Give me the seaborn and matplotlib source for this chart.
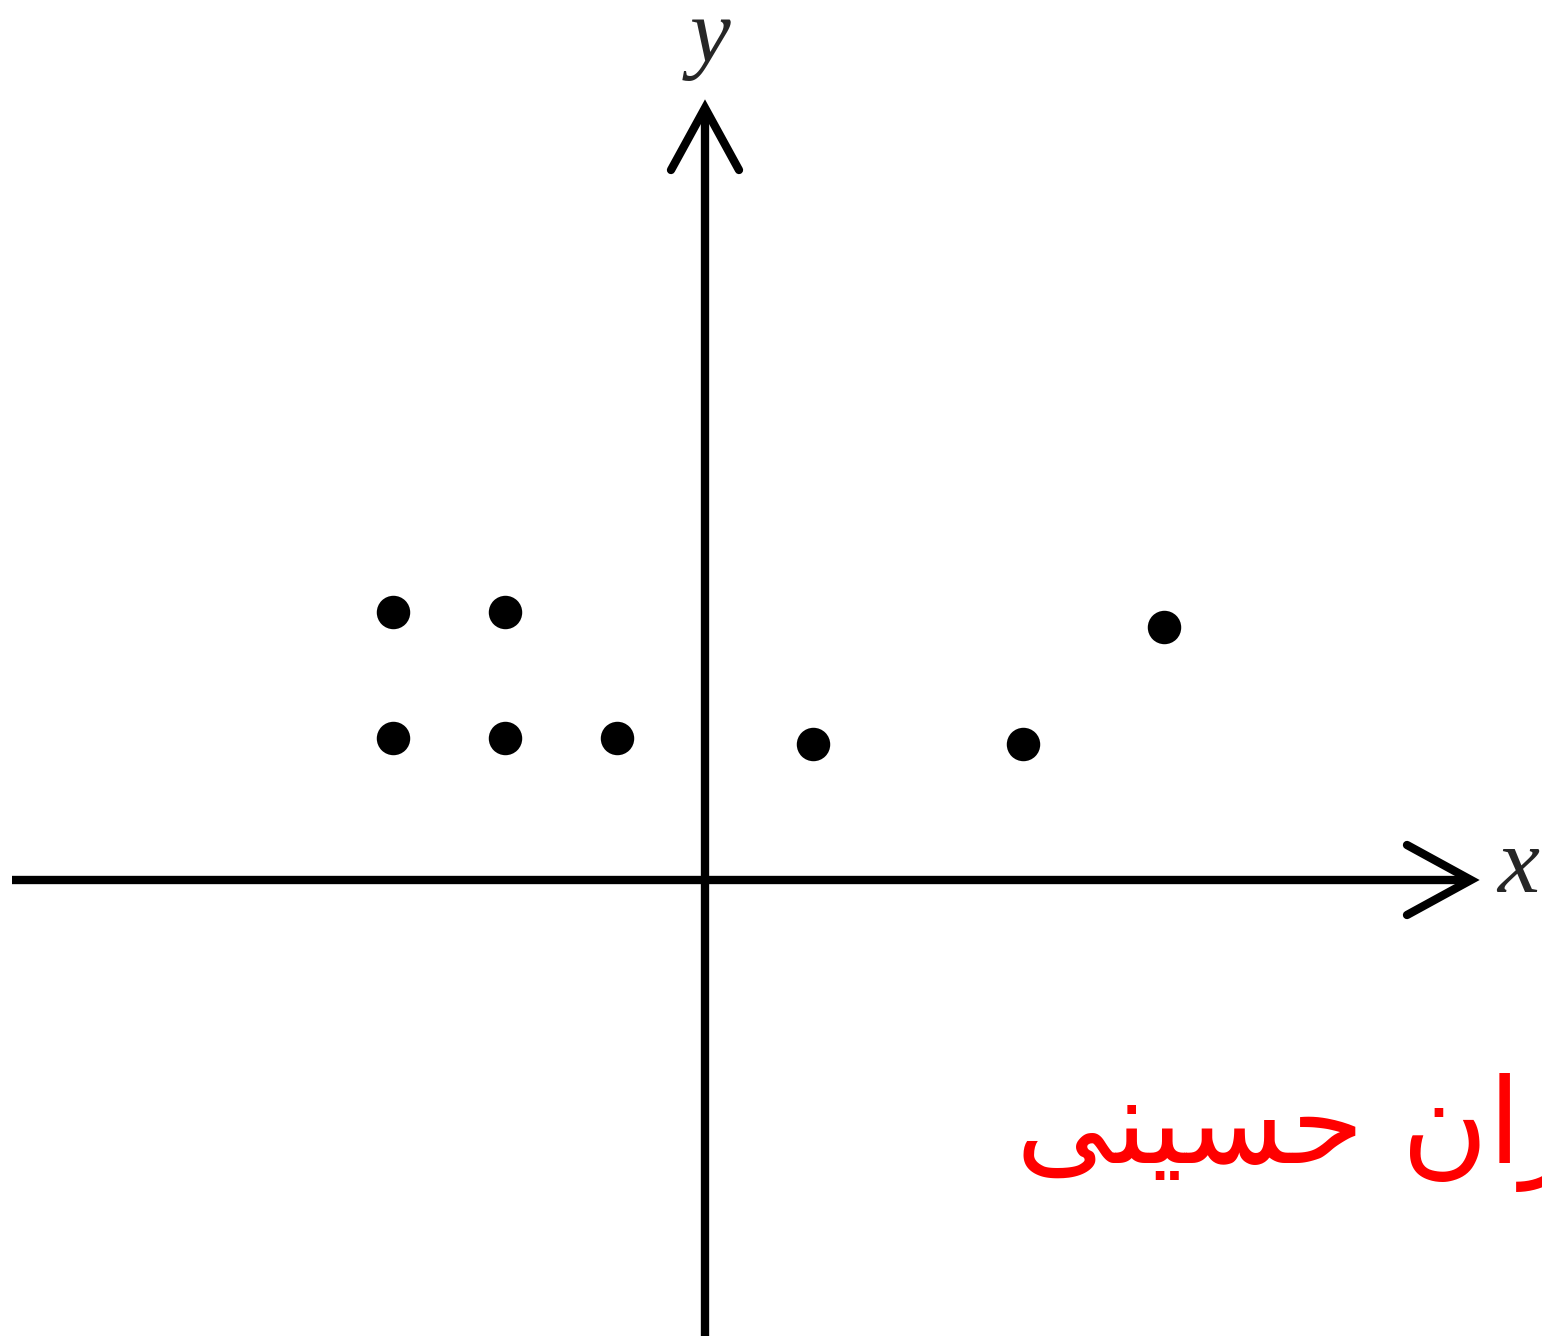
import seaborn as sns
import matplotlib.pyplot as plt

# points (1 unit = 100 px, origin at the axes crossing)
dot_x = [-3.12, -2.00, -3.12, -2.00, -0.88, 1.08, 3.18, 4.59]
dot_y = [2.68, 2.68, 1.42, 1.42, 1.42, 1.36, 1.36, 2.53]

axis_labels = ['$x$', '$y$']
caption = 'کامران حسینی'

# Arabic letters -> presentation forms (isolated, final, initial, medial)
FORMS = {
    'ا': ('\uFE8D', '\uFE8E', None, None),
    'ر': ('\uFEAD', '\uFEAE', None, None),
    'ن': ('\uFEE5', '\uFEE6', '\uFEE7', '\uFEE8'),
    'ح': ('\uFEA1', '\uFEA2', '\uFEA3', '\uFEA4'),
    'س': ('\uFEB1', '\uFEB2', '\uFEB3', '\uFEB4'),
    'م': ('\uFEE1', '\uFEE2', '\uFEE3', '\uFEE4'),
    'ک': ('\uFB8E', '\uFB8F', '\uFB90', '\uFB91'),
    'ی': ('\uFBFC', '\uFBFD', '\uFBFE', '\uFBFF'),
}


def shape(s):
    # matplotlib has no shaping/bidi, so pick joined forms and reverse
    out = []
    for i, ch in enumerate(s):
        if ch not in FORMS:
            out.append(ch)
            continue
        iso, fin, ini, med = FORMS[ch]
        prev = s[i - 1] if i > 0 else ''
        nxt = s[i + 1] if i + 1 < len(s) else ''
        jp = prev in FORMS and FORMS[prev][2] is not None
        jn = nxt in FORMS and ini is not None
        if jp and jn:
            out.append(med)
        elif jp:
            out.append(fin)
        elif jn:
            out.append(ini)
        else:
            out.append(iso)
    return ''.join(reversed(out))


sns.set_style('white')
plt.rcParams['mathtext.fontset'] = 'custom'
plt.rcParams['mathtext.it'] = 'Liberation Serif:italic'
plt.rcParams['mathtext.rm'] = 'Liberation Serif'

fig = plt.figure(figsize=(15.42, 13.36), dpi=100)
ax = fig.add_axes([0, 0, 1, 1])

sns.scatterplot(x=dot_x, y=dot_y, color='black', s=580, linewidth=0, ax=ax)

lw = 6
# x axis with open arrow head
ax.plot([-6.93, 7.66], [0, 0], color='black', lw=lw, solid_capstyle='butt')
ax.plot([7.02, 7.66, 7.02], [0.35, 0, -0.35], color='black', lw=lw,
        solid_capstyle='round', solid_joinstyle='miter')
# y axis
ax.plot([0, 0], [-4.7, 7.72], color='black', lw=lw, solid_capstyle='butt')
ax.plot([-0.34, 0, 0.34], [7.10, 7.72, 7.10], color='black', lw=lw,
        solid_capstyle='round', solid_joinstyle='miter')

ax.text(8.13, -0.12, axis_labels[0], fontsize=68, ha='center', va='baseline')
ax.text(0.02, 8.18, axis_labels[1], fontsize=66, ha='center', va='baseline')

ax.text(3.11, -2.83, shape(caption), family=['DejaVu Sans'], color='#ff0000',
        fontsize=85, ha='left', va='baseline')

ax.set_xlim(-7.05, 8.37)
ax.set_ylim(-4.56, 8.80)
ax.axis('off')

fig.savefig('out.png', dpi=100)
